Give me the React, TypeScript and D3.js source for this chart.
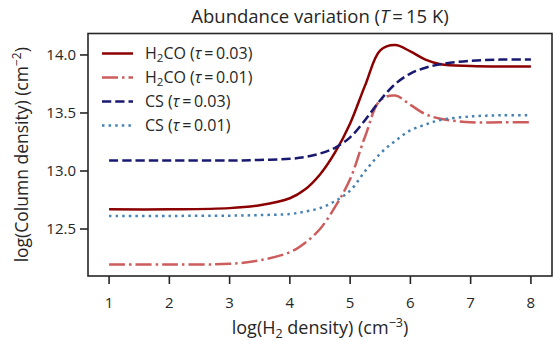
import React from "react";
import * as d3 from "d3";

const xs = [1, 2, 3, 3.5, 4, 4.25, 4.5, 4.75, 5, 5.25, 5.5, 5.75, 6, 6.25, 6.5, 7, 7.5, 8];
const h2coHigh = [12.67, 12.67, 12.68, 12.705, 12.765, 12.84, 12.97, 13.16, 13.41, 13.74, 14.04, 14.085, 14.03, 13.96, 13.92, 13.905, 13.9, 13.9];
const h2coLow = [12.194, 12.195, 12.2, 12.23, 12.3, 12.38, 12.5, 12.69, 12.93, 13.3, 13.61, 13.65, 13.57, 13.49, 13.45, 13.42, 13.42, 13.42];
const csHigh = [13.09, 13.09, 13.09, 13.095, 13.105, 13.12, 13.15, 13.2, 13.29, 13.44, 13.61, 13.75, 13.84, 13.89, 13.92, 13.95, 13.96, 13.96];
const csLow = [12.613, 12.613, 12.615, 12.62, 12.63, 12.65, 12.68, 12.74, 12.83, 13.0, 13.15, 13.26, 13.35, 13.4, 13.44, 13.47, 13.48, 13.48];

const xTicks = [1, 2, 3, 4, 5, 6, 7, 8];
const yTicks = [12.5, 13.0, 13.5, 14.0];

const seriesNames = ["H2CO", "H2CO", "CS", "CS"];
const seriesTau = ["0.03", "0.01", "0.03", "0.01"];
const seriesValues = [h2coHigh, h2coLow, csHigh, csLow];
const seriesColors = ["#8b0000", "#cd5c5c", "#191970", "#4682b4"];
const seriesDash = ["", "16,4,2.5,4", "9.25,4", "2.5,4.1"];

const W = 553;
const H = 341;
const L = 88, R = 552, T = 33.5, B = 276;
const ink = "#262626";
const font = "'Open Sans', 'Noto Sans', sans-serif";

export default function App() {
  const x = d3.scaleLinear().domain([0.65, 8.35]).range([L, R]);
  const y = d3.scaleLinear().domain([12.095, 14.185]).range([B, T]);
  const line = d3
    .line<number>()
    .x((_, i) => x(xs[i]))
    .y((d) => y(d))
    .curve(d3.curveCatmullRom.alpha(0.5));

  const label = (i: number) => {
    const name = seriesNames[i];
    const body =
      name === "H2CO" ? (
        <>
          H<tspan fontSize={11.5} dy={3}>2</tspan>
          <tspan dy={-3}>CO (</tspan>
        </>
      ) : (
        <>CS (</>
      );
    return (
      <>
        {body}
        <tspan fontStyle="italic">τ</tspan>
        <tspan>{"\u2009=\u2009"}{seriesTau[i]})</tspan>
      </>
    );
  };

  return (
    <svg width={W} height={H} style={{ position: "absolute", left: 0, top: 0 }} fontFamily={font}>
      <rect x={0} y={0} width={W} height={H} fill="#fff" />
      <defs>
        <clipPath id="plotclip">
          <rect x={L} y={T} width={R - L} height={B - T} />
        </clipPath>
      </defs>
      <g clipPath="url(#plotclip)">
        {seriesValues.map((vals, i) => (
          <path
            key={i}
            d={line(vals) || ""}
            fill="none"
            stroke={seriesColors[i]}
            strokeWidth={2.5}
            strokeDasharray={seriesDash[i] || undefined}
          />
        ))}
      </g>
      <rect x={L} y={T} width={R - L} height={B - T} fill="none" stroke={ink} strokeWidth={1.6} />
      {xTicks.map((t) => (
        <g key={t}>
          <line x1={x(t)} x2={x(t)} y1={B} y2={B + 8} stroke={ink} strokeWidth={1.6} />
          <text x={x(t)} y={B + 32} textAnchor="middle" fontSize={15} fill={ink}>
            {t}
          </text>
        </g>
      ))}
      {yTicks.map((t) => (
        <g key={t}>
          <line x1={L - 8} x2={L} y1={y(t)} y2={y(t)} stroke={ink} strokeWidth={1.6} />
          <text x={L - 12} y={y(t)} dy="0.35em" textAnchor="end" fontSize={15} fill={ink}>
            {d3.format(".1f")(t)}
          </text>
        </g>
      ))}
      <text x={(L + R) / 2} y={23} textAnchor="middle" fontSize={18.5} fill={ink}>
        Abundance variation (<tspan fontStyle="italic">T</tspan>{"\u2009=\u200915 K)"}
      </text>
      <text x={(L + R) / 2} y={334} textAnchor="middle" fontSize={18} fill={ink}>
        log(H<tspan fontSize={12.5} dy={3.5}>2</tspan>
        <tspan dy={-3.5}> density) (cm</tspan>
        <tspan fontSize={12.5} dy={-7}>−3</tspan>
        <tspan dy={7}>)</tspan>
      </text>
      <text
        transform={`translate(28, ${(T + B) / 2}) rotate(-90)`}
        textAnchor="middle"
        fontSize={17.5}
        fill={ink}
      >
        log(Column density) (cm<tspan fontSize={12} dy={-7}>−2</tspan>
        <tspan dy={7}>)</tspan>
      </text>
      {seriesValues.map((_, i) => {
        const ly = 53.5 + i * 24;
        return (
          <g key={i}>
            <line
              x1={102}
              x2={133}
              y1={ly}
              y2={ly}
              stroke={seriesColors[i]}
              strokeWidth={2.5}
              strokeDasharray={seriesDash[i] || undefined}
            />
            <text x={145} y={ly} dy="0.35em" fontSize={16} fill={ink}>
              {label(i)}
            </text>
          </g>
        );
      })}
    </svg>
  );
}
